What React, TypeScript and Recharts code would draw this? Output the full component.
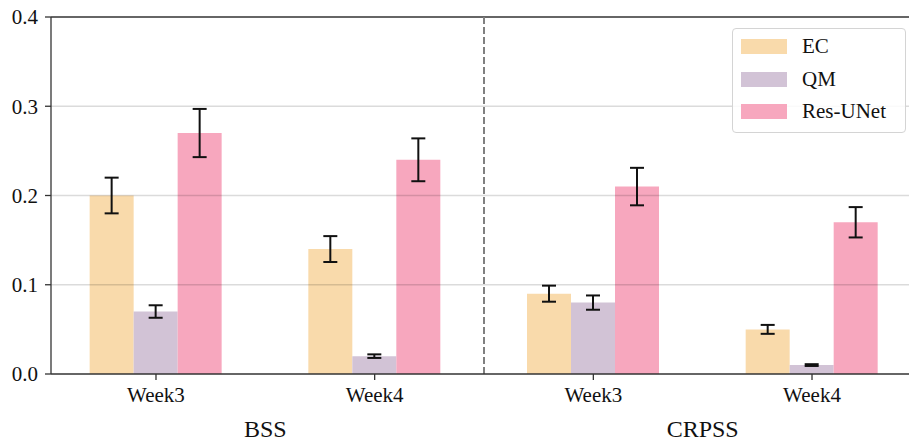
import React from 'react';
import { BarChart, Bar, XAxis, YAxis, ErrorBar, ReferenceLine, Legend } from 'recharts';

const categories = ['BSS-Week3', 'BSS-Week4', 'CRPSS-Week3', 'CRPSS-Week4'];
const weekLabels = ['Week3', 'Week4', 'Week3', 'Week4'];
const groupLabels = ['BSS', 'CRPSS'];

const ecValues = [0.2, 0.14, 0.09, 0.05];
const ecErr = [0.02, 0.0145, 0.009, 0.005];
const qmValues = [0.07, 0.02, 0.08, 0.01];
const qmErr = [0.007, 0.002, 0.008, 0.001];
const resValues = [0.27, 0.24, 0.21, 0.17];
const resErr = [0.027, 0.024, 0.021, 0.017];

const yTicks = [0, 0.1, 0.2, 0.3, 0.4];
const gridLines = [0.1, 0.2, 0.3];

const SERIES = [
  { key: 'ec', name: 'EC', color: '#F9DAAB' },
  { key: 'qm', name: 'QM', color: '#D2C3D6' },
  { key: 'res', name: 'Res-UNet', color: '#F7A7BE' },
];

const FONT = '"Liberation Serif", "Times New Roman", serif';
const AXIS = '#333';

const data = categories.map((c, i) => ({
  cat: c,
  ec: ecValues[i],
  ecErr: ecErr[i],
  qm: qmValues[i],
  qmErr: qmErr[i],
  res: resValues[i],
  resErr: resErr[i],
}));

// week label under each tick, group label centred between its pair of ticks
const WeekTick = (props: any) => {
  const { x, y, payload } = props;
  const idx = categories.indexOf(payload.value);
  const half = payload.offset ?? 109;
  return (
    <g>
      <text x={x} y={y} dy="0.71em" textAnchor="middle" fontFamily={FONT} fontSize={21} fill="#111">
        {weekLabels[idx]}
      </text>
      {idx % 2 === 0 && (
        <text x={x + half} y={y + 50} textAnchor="middle" fontFamily={FONT} fontSize={24} fill="#111">
          {groupLabels[idx / 2]}
        </text>
      )}
    </g>
  );
};

const LegendBox = () => (
  <div
    style={{
      width: 172,
      height: 103,
      border: '1px solid #d4d4d4',
      borderRadius: 4,
      background: 'rgba(255,255,255,0.85)',
      boxSizing: 'content-box',
      position: 'relative',
    }}
  >
    {SERIES.map((s, i) => (
      <div
        key={s.key}
        style={{ position: 'absolute', left: 8, top: 9 + i * 32.5, display: 'flex', alignItems: 'center', height: 17 }}
      >
        <span style={{ display: 'inline-block', width: 46, height: 15, background: s.color }} />
        <span style={{ marginLeft: 15, fontFamily: FONT, fontSize: 21, color: '#111', lineHeight: '17px' }}>
          {s.name}
        </span>
      </div>
    ))}
  </div>
);

export default function App() {
  return (
    <div style={{ position: 'absolute', left: 0, top: 0, width: 909, height: 445, overflow: 'hidden', background: '#fff' }}>
      <BarChart
        width={930}
        height={445}
        data={data}
        margin={{ top: 17, right: 13, bottom: 0, left: 0 }}
        barGap={0}
        barSize={44}
      >
        <XAxis
          dataKey="cat"
          height={71}
          padding={{ left: -4.35, right: -4.35 }}
          tick={<WeekTick />}
          tickSize={6}
          tickMargin={7}
          stroke={AXIS}
          strokeWidth={1.3}
          interval={0}
        />
        <YAxis
          width={51}
          domain={[0, 0.4]}
          ticks={yTicks}
          tickFormatter={(v: number) => v.toFixed(1)}
          tickSize={6}
          tickMargin={7}
          stroke={AXIS}
          strokeWidth={1.3}
          tick={{ fontFamily: FONT, fontSize: 21, fill: '#111' }}
          allowDataOverflow
        />
        {SERIES.map((s) => (
          <Bar key={s.key} dataKey={s.key} name={s.name} fill={s.color} isAnimationActive={false}>
            <ErrorBar dataKey={`${s.key}Err`} width={7} stroke="#111" strokeWidth={2} direction="y" />
          </Bar>
        ))}
        {gridLines.map((g) => (
          <ReferenceLine key={g} y={g} stroke="#000" strokeOpacity={0.14} strokeWidth={1.5} />
        ))}
        <ReferenceLine y={0.4} stroke={AXIS} strokeWidth={1.3} />
        <ReferenceLine x="CRPSS-Week3" position="start" stroke="#808080" strokeWidth={2} strokeDasharray="7 3" />
        <Legend
          layout="vertical"
          align="center"
          verticalAlign="middle"
          content={<LegendBox />}
          wrapperStyle={{ position: 'absolute', left: 732, top: 28, width: 174, height: 105 }}
        />
      </BarChart>
    </div>
  );
}
